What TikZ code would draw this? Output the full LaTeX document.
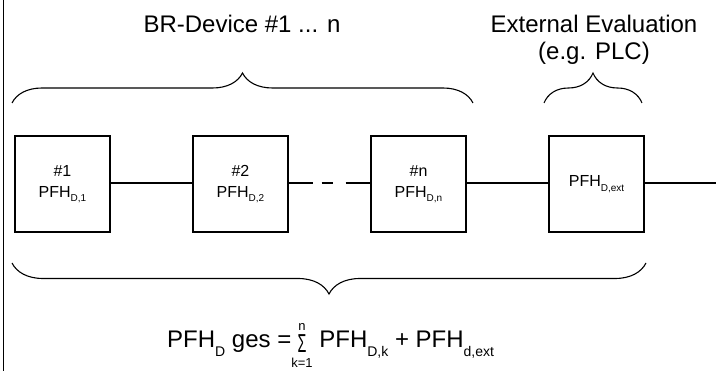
\documentclass[tikz,border=0pt]{standalone}
\usepackage{fontspec}
\usepackage{amsmath}
\usepackage{graphicx}
\setmainfont{Liberation Sans}
\usetikzlibrary{decorations.pathreplacing}
\newcommand{\bsub}[1]{\raisebox{-4.5pt}{\fontsize{10}{10}\selectfont #1}}
\newcommand{\fsub}[1]{\raisebox{-9pt}{\fontsize{14}{14}\selectfont #1}}
\newcommand{\sigmasym}{\raisebox{-5pt}{\scalebox{0.55}[1]{\fontsize{26}{26}\selectfont Σ}}}
\begin{document}
\begin{tikzpicture}[x=1pt,y=-1pt,
  devbox/.style={draw,line width=1.2pt,minimum width=95pt,minimum height=96pt,inner sep=0pt,align=center,font=\fontsize{16}{21}\selectfont},
  link/.style={line width=1.1pt},
  bigtext/.style={font=\fontsize{24}{27}\selectfont,align=center,inner sep=0pt},
  bracestyle/.style={line width=1.1pt,decorate,decoration={brace,amplitude=#1}}]
\useasboundingbox (0,0) rectangle (716,371);
\draw[line width=0.9pt] (3,0) -- (3,371);
\node[devbox] (b1) at (62.5,184) {\#1\\PFH\bsub{D,1}};
\node[devbox] (b2) at (240.5,184) {\#2\\PFH\bsub{D,2}};
\node[devbox] (bn) at (418.5,184) {\#n\\PFH\bsub{D,n}};
\node[devbox] (be) at (596.5,184) {PFH\bsub{D,ext}};
\coordinate (rend) at (716,183);
\draw[link] (b1.east |- 0,183) -- (b2.west |- 0,183);
\draw[link,dash pattern=on 24pt off 9pt on 11pt off 13pt on 30pt] (b2.east |- 0,183) -- (bn.west |- 0,183);
\draw[link] (bn.east |- 0,183) -- (be.west |- 0,183);
\draw[link] (be.east |- 0,183) -- (rend);
\coordinate (t1a) at (12,103);
\coordinate (t1b) at (473,103);
\coordinate (t2a) at (544,103);
\coordinate (t2b) at (642,103);
\coordinate (bba) at (646,263);
\coordinate (bbb) at (12,263);
\draw[bracestyle=30pt] (t1a) -- (t1b);
\draw[bracestyle=30pt] (t2a) -- (t2b);
\draw[bracestyle=31pt] (bba) -- (bbb);
\node[bigtext,anchor=base] (t1) at (242,33) {BR-Device \#1 ... n};
\node[bigtext,anchor=base] (t2) at (594,33) {External Evaluation};
\node[bigtext,anchor=base] (t3) at (594,60) {(e.g. PLC)};
\node[bigtext,anchor=base west] (f) at (167,348) {PFH\fsub{D} ges =$\mathop{\hbox{\sigmasym}}\limits^{\text{\fontsize{13}{13}\selectfont n}}_{\text{\fontsize{13}{13}\selectfont k=1}}$ PFH\fsub{D,k} + PFH\fsub{d,ext}};
\end{tikzpicture}
\end{document}
